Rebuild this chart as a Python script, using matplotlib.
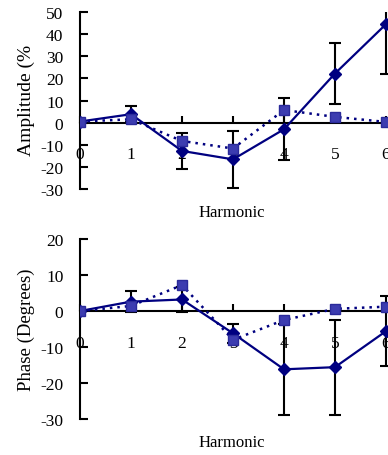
import numpy as np
import matplotlib
matplotlib.use("Agg")
import matplotlib.pyplot as plt

plt.rcParams['font.family'] = ['Liberation Serif', 'DejaVu Serif']
plt.rcParams['font.size'] = 12.5
plt.rcParams['axes.unicode_minus'] = False

# data
harmonic = [0, 1, 2, 3, 4, 5, 6]

amp_solid = [0.5, 3.8, -12.8, -16.6, -3.0, 22.2, 44.5]
amp_err = [0, 3.5, 8.0, 13.0, 14.0, 13.8, 22.6]
amp_dotted = [0.5, 1.5, -8.3, -11.7, 5.7, 2.6, 0.3]

phase_solid = [0, 2.6, 3.2, -6.2, -16.2, -15.6, -5.6]
phase_err = [0, 3.0, 3.5, 2.6, 12.7, 13.2, 9.7]
phase_dotted = [0, 1.4, 7.2, -8.0, -2.5, 0.6, 1.2]

W, H = 388, 456
navy = '#000080'
sq_face = '#3c3cb0'


def px_axes(left, top, right, bottom):
    # pixel box -> figure fraction
    return [left / W, 1 - bottom / H, (right - left) / W, (bottom - top) / H]


def style(ax, ylim, yticks):
    ax.set_xlim(0, (W - 80) / 51)
    ax.set_ylim(*ylim)
    ax.set_yticks(yticks)
    ax.set_xticks(harmonic)
    ax.spines['top'].set_visible(False)
    ax.spines['right'].set_visible(False)
    ax.spines['bottom'].set_position(('data', 0))
    ax.spines['left'].set_linewidth(1.5)
    ax.spines['bottom'].set_linewidth(1.5)
    ax.tick_params(axis='y', direction='in', length=6, width=1.5, pad=12)
    ax.tick_params(axis='x', direction='in', length=5, width=1.5, pad=17)
    ax.patch.set_alpha(0)


def draw(ax, solid, err, dotted):
    ax.errorbar(harmonic, solid, yerr=err, color=navy, ecolor='black',
                elinewidth=1.5, capsize=4.3, capthick=1.5, lw=1.6,
                marker='D', ms=6.5, mfc=navy, mec=navy, zorder=3)
    ax.plot(harmonic, dotted, color=navy, ls=(0, (1, 2)), lw=1.8,
            marker='s', ms=7, mfc=sq_face, mec='#2a2a9a', zorder=4)


fig = plt.figure(figsize=(W / 100, H / 100), dpi=100)

ax1 = fig.add_axes(px_axes(80, 13, W, 190))
style(ax1, (-30, 50), range(-30, 51, 10))
draw(ax1, amp_solid, amp_err, amp_dotted)

ax2 = fig.add_axes(px_axes(80, 240, W, 420))
style(ax2, (-30, 20), range(-30, 21, 10))
draw(ax2, phase_solid, phase_err, phase_dotted)

fig.text(26 / W, 1 - 100 / H, 'Amplitude (%', rotation=90, ha='center', va='center',
         fontsize=14)
fig.text(232 / W, 1 - 213 / H, 'Harmonic', ha='center', va='center', fontsize=12)
fig.text(26 / W, 1 - 330 / H, 'Phase (Degrees)', rotation=90, ha='center', va='center',
         fontsize=13.5)
fig.text(232 / W, 1 - 443 / H, 'Harmonic', ha='center', va='center', fontsize=12)

fig.savefig('out.png', dpi=100)
